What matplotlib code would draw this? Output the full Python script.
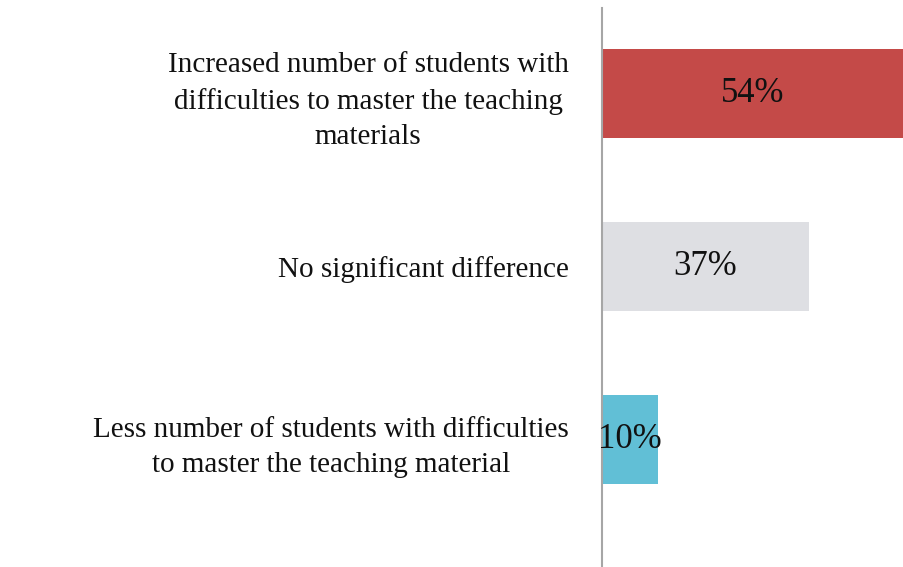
import matplotlib.pyplot as plt

# Survey answers (top to bottom)
categories = [
    "Increased number of students with\ndifficulties to master the teaching\nmaterials",
    "No significant difference",
    "Less number of students with difficulties\nto master the teaching material",
]
values = [54, 37, 10]
colors = ["#C44A48", "#DEDFE3", "#61BFD6"]

plt.rcParams['font.family'] = ['Liberation Serif', 'DejaVu Serif']

fig = plt.figure(figsize=(9.04, 5.67), dpi=100)
ax = fig.add_axes([602 / 904, 0, 302 / 904, 559 / 567])

pos = list(range(len(values)))
ax.barh(pos, values, height=0.515, color=colors)

for p, v in zip(pos, values):
    ax.text(v / 2, p, f"{v}%", ha='center', va='center', fontsize=25, color='#111111')

ax.set_xlim(0, 54)
ax.set_ylim(2.734, -0.494)
ax.set_yticks(pos)
ax.set_yticklabels(categories, fontsize=21, multialignment='center',
                   linespacing=1.45, color='#111111')
ax.tick_params(axis='y', length=0, pad=24)
ax.set_xticks([])

for side in ['top', 'right', 'bottom']:
    ax.spines[side].set_visible(False)
ax.spines['left'].set_color('#A6A6A6')
ax.spines['left'].set_linewidth(1.5)

fig.savefig("out.png", dpi=100)
